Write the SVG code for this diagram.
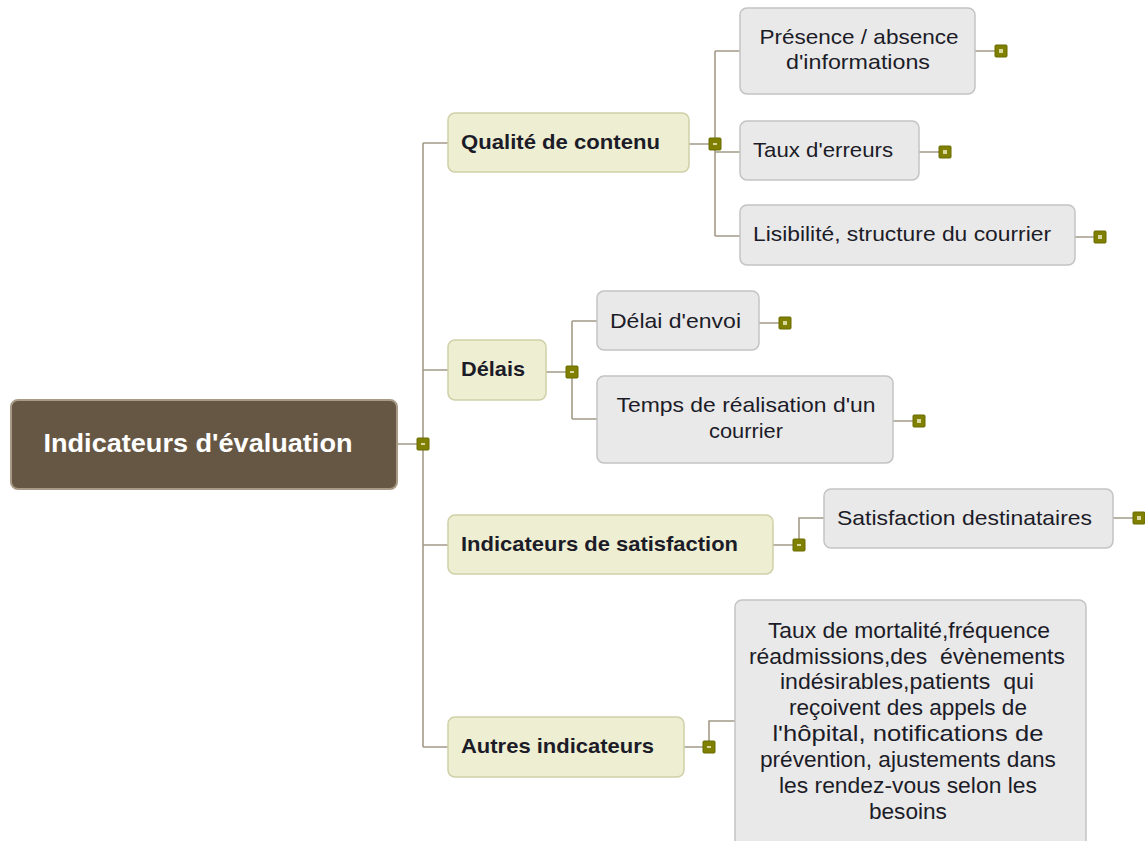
<svg xmlns="http://www.w3.org/2000/svg" width="1145" height="841" viewBox="0 0 1145 841">
<defs>
<style>
.conn{fill:none;stroke:#a39b88;stroke-width:1.6}
.root{fill:#665744;stroke:#a89a86;stroke-width:2}
.l1{fill:#eeeed2;stroke:#cfcfa8;stroke-width:1.5}
.l2{fill:#e9e9e9;stroke:#c3c3c3;stroke-width:1.5}
.knob{fill:#7f8000;stroke:#6a6b00;stroke-width:1}
.mark{fill:#d8d8a0}
text{font-family:"Liberation Sans",Arial,sans-serif;fill:#1c1c28}
.t0{font-size:25px;font-weight:bold;fill:#ffffff}
.t1{font-size:21px;font-weight:bold}
.t2{font-size:21px}
.t3{font-size:22px}
</style>
</defs>
<rect width="1145" height="841" fill="#ffffff"/>
<g id="connectors">
<path class="conn" d="M397 444H423M423 143V747M423 143H448M423 370H448M423 545H448M423 747H448"/>
<path class="conn" d="M689 144H715M715 51V236M715 51H740M715 152H740M715 236H740"/>
<path class="conn" d="M975 51H1001M919 152H945M1075 237H1100"/>
<path class="conn" d="M546 372H572M572 321V419M572 321H597M572 419H597M759 323H785M893 421H919"/>
<path class="conn" d="M773 545H799V518H824M1113 518H1139"/>
<path class="conn" d="M684 747H709V721H735"/>
</g>
<g id="root">
<rect class="root" x="11" y="400" width="386" height="89" rx="7"/>
<text class="t0" x="198" y="452" text-anchor="middle" textLength="309" lengthAdjust="spacingAndGlyphs">Indicateurs d'évaluation</text>
<rect class="knob" x="417" y="438" width="12" height="12" rx="1"/><rect class="mark" x="421" y="443" width="4" height="2"/>
</g>
<g id="n-qualite">
<rect class="l1" x="448" y="113" width="241" height="59" rx="7"/>
<text class="t1" x="461" y="149" textLength="199" lengthAdjust="spacingAndGlyphs">Qualité de contenu</text>
<rect class="knob" x="709" y="138" width="12" height="12" rx="1"/><rect class="mark" x="713" y="143" width="4" height="2"/>
</g>
<g id="n-presence">
<rect class="l2" x="740" y="8" width="235" height="86" rx="7"/>
<text class="t2" x="859" y="44" text-anchor="middle" textLength="199" lengthAdjust="spacingAndGlyphs">Présence / absence</text>
<text class="t2" x="858" y="69" text-anchor="middle" textLength="144" lengthAdjust="spacingAndGlyphs">d'informations</text>
<rect class="knob" x="995" y="45" width="12" height="12" rx="1"/><rect class="mark" x="999" y="49" width="4" height="4"/>
</g>
<g id="n-taux">
<rect class="l2" x="740" y="121" width="179" height="59" rx="7"/>
<text class="t2" x="753" y="157" textLength="140" lengthAdjust="spacingAndGlyphs">Taux d'erreurs</text>
<rect class="knob" x="939" y="146" width="12" height="12" rx="1"/><rect class="mark" x="943" y="150" width="4" height="4"/>
</g>
<g id="n-lisibilite">
<rect class="l2" x="740" y="205" width="335" height="60" rx="7"/>
<text class="t2" x="753" y="241" textLength="298" lengthAdjust="spacingAndGlyphs">Lisibilité, structure du courrier</text>
<rect class="knob" x="1094" y="231" width="12" height="12" rx="1"/><rect class="mark" x="1098" y="235" width="4" height="4"/>
</g>
<g id="n-delais">
<rect class="l1" x="448" y="340" width="98" height="60" rx="7"/>
<text class="t1" x="461" y="376" textLength="64" lengthAdjust="spacingAndGlyphs">Délais</text>
<rect class="knob" x="566" y="366" width="12" height="12" rx="1"/><rect class="mark" x="570" y="371" width="4" height="2"/>
</g>
<g id="n-delai-envoi">
<rect class="l2" x="597" y="291" width="162" height="59" rx="7"/>
<text class="t2" x="610" y="328" textLength="131" lengthAdjust="spacingAndGlyphs">Délai d'envoi</text>
<rect class="knob" x="779" y="317" width="12" height="12" rx="1"/><rect class="mark" x="783" y="321" width="4" height="4"/>
</g>
<g id="n-temps">
<rect class="l2" x="597" y="376" width="296" height="87" rx="7"/>
<text class="t2" x="746" y="412" text-anchor="middle" textLength="259" lengthAdjust="spacingAndGlyphs">Temps de réalisation d'un</text>
<text class="t2" x="746" y="438" text-anchor="middle" textLength="74" lengthAdjust="spacingAndGlyphs">courrier</text>
<rect class="knob" x="913" y="415" width="12" height="12" rx="1"/><rect class="mark" x="917" y="419" width="4" height="4"/>
</g>
<g id="n-satisfaction">
<rect class="l1" x="448" y="515" width="325" height="59" rx="7"/>
<text class="t1" x="461" y="551" textLength="277" lengthAdjust="spacingAndGlyphs">Indicateurs de satisfaction</text>
<rect class="knob" x="793" y="539" width="12" height="12" rx="1"/><rect class="mark" x="797" y="544" width="4" height="2"/>
</g>
<g id="n-satisfaction-dest">
<rect class="l2" x="824" y="489" width="289" height="59" rx="7"/>
<text class="t2" x="837" y="525" textLength="255" lengthAdjust="spacingAndGlyphs">Satisfaction destinataires</text>
<rect class="knob" x="1133" y="512" width="12" height="12" rx="1"/><rect class="mark" x="1137" y="516" width="4" height="4"/>
</g>
<g id="n-autres">
<rect class="l1" x="448" y="717" width="236" height="60" rx="7"/>
<text class="t1" x="461" y="753" textLength="193" lengthAdjust="spacingAndGlyphs">Autres indicateurs</text>
<rect class="knob" x="703" y="741" width="12" height="12" rx="1"/><rect class="mark" x="707" y="746" width="4" height="2"/>
</g>
<g id="n-autres-detail">
<rect class="l2" x="735" y="600" width="351" height="260" rx="7"/>
<text class="t3" text-anchor="middle" xml:space="preserve">
<tspan x="912" y="638" textLength="282" lengthAdjust="spacingAndGlyphs">Taux de mortalité,fréquence</tspan>
<tspan x="910" y="664" textLength="316" lengthAdjust="spacingAndGlyphs">réadmissions,des  évènements</tspan>
<tspan x="910" y="689" textLength="254" lengthAdjust="spacingAndGlyphs">indésirables,patients  qui</tspan>
<tspan x="911" y="715" textLength="238" lengthAdjust="spacingAndGlyphs">reçoivent des appels de</tspan>
<tspan x="911" y="741" textLength="271" lengthAdjust="spacingAndGlyphs">l'hôpital, notifications de</tspan>
<tspan x="911" y="767" textLength="296" lengthAdjust="spacingAndGlyphs">prévention, ajustements dans</tspan>
<tspan x="911" y="793" textLength="258" lengthAdjust="spacingAndGlyphs">les rendez-vous selon les</tspan>
<tspan x="911" y="819" textLength="78" lengthAdjust="spacingAndGlyphs">besoins</tspan>
</text>
</g>
</svg>
